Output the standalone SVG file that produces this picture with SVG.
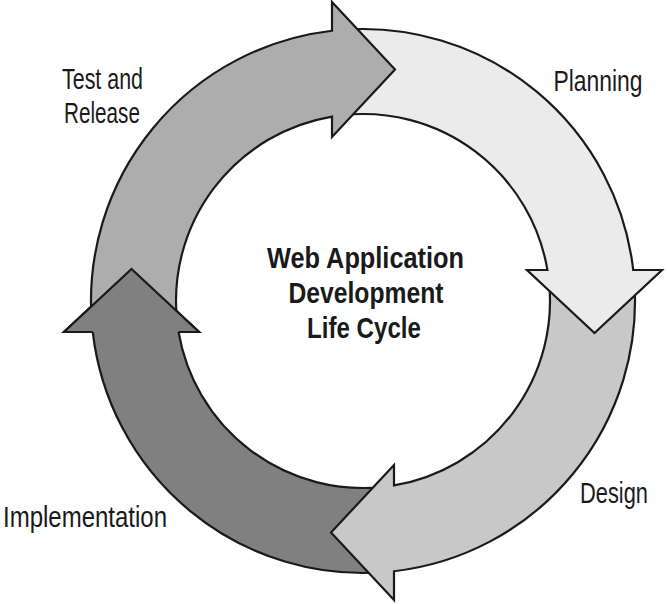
<svg xmlns="http://www.w3.org/2000/svg" xmlns:xlink="http://www.w3.org/1999/xlink" width="667" height="604" viewBox="0 0 667 604">
  <style>
    .arrow { stroke: #1a1a1a; stroke-width: 2.2; stroke-linejoin: miter; }
    .label { font-family: "Liberation Sans", Arial, sans-serif; font-size: 29px; fill: #1a1a1a; text-anchor: middle; }
    .title { font-family: "Liberation Sans", Arial, sans-serif; font-size: 30px; font-weight: bold; fill: #1a1a1a; text-anchor: middle; }
    .c-test { fill: #adadad; }
    .c-plan { fill: #ebebeb; }
    .c-design { fill: #c8c8c8; }
    .c-impl { fill: #808080; }
  </style>
  <defs>
    <path id="arrowShape" d="M -271.19,21 A 272,272 0 0 1 -31,-270.23 L -31,-299 L 32,-231.5 L -31,-164 L -31,-184.41 A 187,187 0 0 0 -185.82,21 Z"/>
    <path id="headFill" d="M -31,-299 L 32,-231.5 L -31,-164 Z"/>
    <path id="headLine" d="M -31,-270.23 L -31,-299 L 32,-231.5 L -31,-164 L -31,-184.41"/>
  </defs>
  <rect width="667" height="604" fill="#ffffff"/>

  <g id="implementation">
    <use xlink:href="#arrowShape" class="arrow c-impl" transform="translate(363,301) rotate(270)"/>
  </g>
  <g id="design">
    <use xlink:href="#arrowShape" class="arrow c-design" transform="translate(363,301) rotate(180)"/>
  </g>
  <g id="planning">
    <use xlink:href="#arrowShape" class="arrow c-plan" transform="translate(363,301) rotate(90)"/>
  </g>
  <g id="test-and-release">
    <use xlink:href="#arrowShape" class="arrow c-test" transform="translate(363,301)"/>
  </g>
  <g id="implementation-head" transform="translate(363,301) rotate(270)">
    <use xlink:href="#headFill" class="c-impl"/>
    <use xlink:href="#headLine" class="arrow" fill="none"/>
  </g>

  <g id="labels">
    <text class="label" x="102.5" y="89" textLength="81" lengthAdjust="spacingAndGlyphs">Test and</text>
    <text class="label" x="102" y="123" textLength="76" lengthAdjust="spacingAndGlyphs">Release</text>
    <text class="label" x="598" y="91" textLength="89" lengthAdjust="spacingAndGlyphs">Planning</text>
    <text class="label" x="614" y="503" textLength="68" lengthAdjust="spacingAndGlyphs">Design</text>
    <text class="label" x="85" y="527" textLength="164" lengthAdjust="spacingAndGlyphs">Implementation</text>
  </g>
  <g id="title">
    <text class="title" x="365.5" y="268" textLength="197" lengthAdjust="spacingAndGlyphs">Web Application</text>
    <text class="title" x="366" y="303" textLength="155" lengthAdjust="spacingAndGlyphs">Development</text>
    <text class="title" x="364" y="338" textLength="114" lengthAdjust="spacingAndGlyphs">Life Cycle</text>
  </g>
</svg>
